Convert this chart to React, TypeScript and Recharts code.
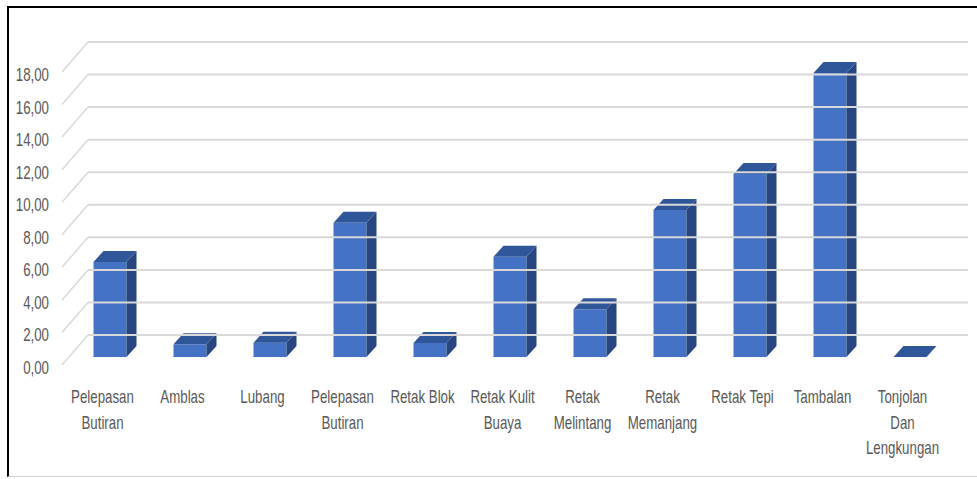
import React from "react"
import { BarChart, Bar, XAxis, YAxis } from "recharts"

// kategori kerusakan jalan
const categories = [
    "Pelepasan\nButiran",
    "Amblas",
    "Lubang",
    "Pelepasan\nButiran",
    "Retak Blok",
    "Retak Kulit\nBuaya",
    "Retak\nMelintang",
    "Retak\nMemanjang",
    "Retak Tepi",
    "Tambalan",
    "Tonjolan\nDan\nLengkungan",
]

const values = [5.84, 0.78, 0.88, 8.24, 0.86, 6.16, 2.93, 9.03, 11.25, 17.44, 0]

const yTicks = [0, 2, 4, 6, 8, 10, 12, 14, 16, 18]

const chartData = categories.map((name, i) => ({ id: i, name, value: values[i] }))

const FRONT = "#4472C4"
const TOP = "#30569A"
const SIDE = "#27467F"
const GRID = "#d9d9d9"
const TEXT = "#595959"
const FONT = "Liberation Sans"

// depth of the bars (3d look)
const DX = 10
const DY = 11

const Bar3D = (props: any) => {
    const { x, y, width, height } = props
    const w = width
    const h = Math.max(height, 0)
    return (
        <g>
            {h > 0 && <rect x={x} y={y} width={w} height={h} fill={FRONT} />}
            {h > 0 && (
                <polygon
                    points={`${x + w},${y} ${x + w + DX},${y - DY} ${x + w + DX},${y + h - DY} ${x + w},${y + h}`}
                    fill={SIDE}
                />
            )}
            <polygon
                points={`${x},${y} ${x + DX},${y - DY} ${x + w + DX},${y - DY} ${x + w},${y}`}
                fill={TOP}
            />
        </g>
    )
}

const fmt = (v: number) => v.toFixed(2).replace(".", ",")

// y tick draws the label plus the perspective gridline (front -> back wall)
const YTick = (props: any) => {
    const { y, payload } = props
    const front = y + 8
    const back = y - 22
    return (
        <g>
            <line x1={62} y1={front} x2={88} y2={back} stroke={GRID} strokeWidth={1.5} />
            <line x1={88} y1={back} x2={968} y2={back} stroke={GRID} strokeWidth={2} />
            <g transform={`translate(49, ${y + 17}) scale(0.7, 1)`}>
                <text x={0} y={0} textAnchor="end" fill={TEXT} fontSize={19} fontFamily={FONT}>
                    {fmt(payload.value)}
                </text>
            </g>
        </g>
    )
}

const XTick = (props: any) => {
    const { x, payload } = props
    const lines = String(payload.value).split("\n")
    return (
        <g>
            {lines.map((line, i) => (
                <g key={i} transform={`translate(${x - 7}, ${403 + i * 25.5}) scale(0.7, 1)`}>
                    <text x={0} y={0} textAnchor="middle" fill={TEXT} fontSize={19} fontFamily={FONT}>
                        {line}
                    </text>
                </g>
            ))}
        </g>
    )
}

export default function App() {
    return (
        <div style={{ position: "absolute", left: 0, top: 0, width: 977, height: 479, background: "#fff" }}>
            <div
                style={{
                    position: "absolute",
                    left: 7,
                    top: 6,
                    right: 0,
                    bottom: 2,
                    borderLeft: "2px solid #000",
                    borderTop: "2px solid #000",
                    borderBottom: "1px solid #d0d0d0",
                }}
            />
            <div style={{ position: "absolute", left: 0, top: 0 }}>
                <BarChart
                    width={977}
                    height={479}
                    data={chartData}
                    margin={{ top: 64, right: 27.5, left: 0, bottom: 0 }}
                    barSize={33}
                >
                    <YAxis
                        type="number"
                        domain={[0, 18]}
                        ticks={yTicks}
                        width={69.5}
                        axisLine={false}
                        tickLine={false}
                        tick={<YTick />}
                        interval={0}
                    />
                    <XAxis
                        dataKey="name"
                        height={122}
                        axisLine={false}
                        tickLine={false}
                        interval={0}
                        tick={<XTick />}
                    />
                    <Bar dataKey="value" shape={<Bar3D />} isAnimationActive={false} />
                </BarChart>
            </div>
        </div>
    )
}
